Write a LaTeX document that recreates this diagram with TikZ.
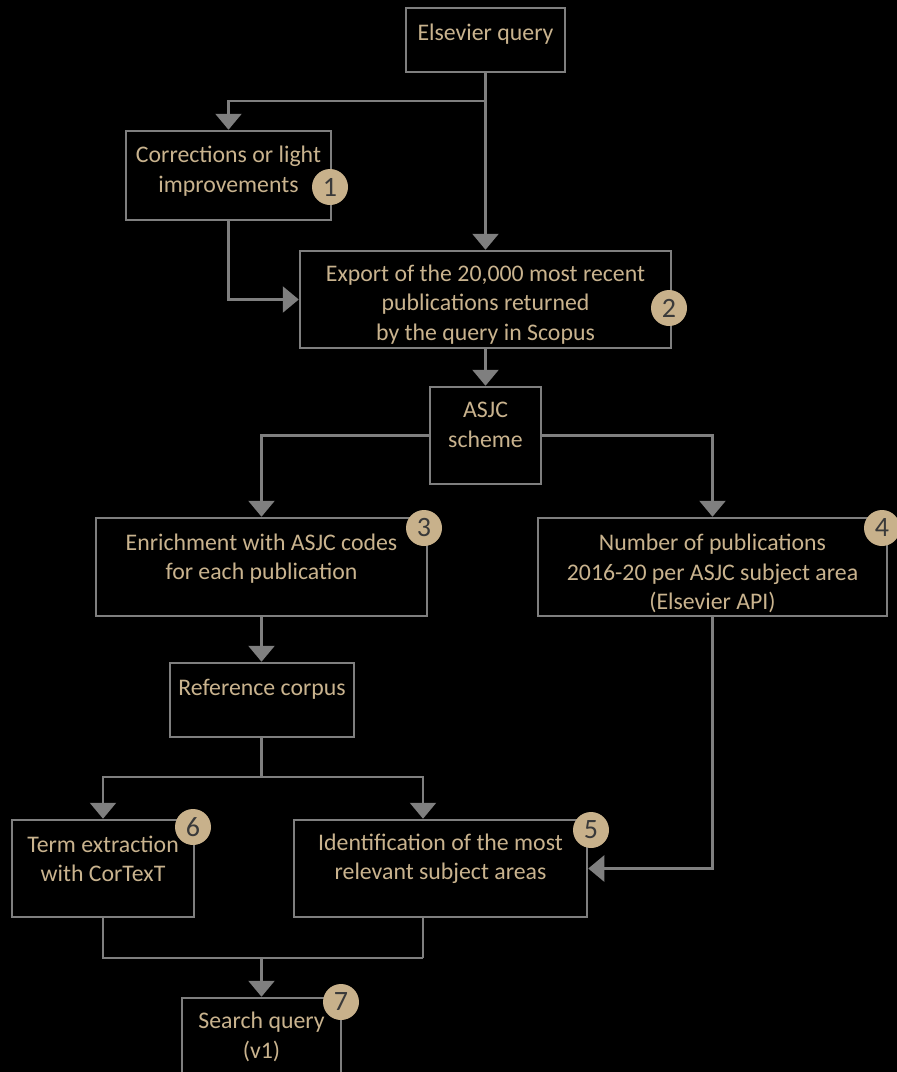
\documentclass[tikz,border=0pt]{standalone}
\usepackage{fontspec}
\setmainfont{Carlito}
\usetikzlibrary{arrows.meta}
\definecolor{ln}{HTML}{7F7F7F}
\definecolor{tx}{HTML}{C9B38E}
\definecolor{bd}{HTML}{C8B18B}
\definecolor{bdt}{HTML}{3A3A3A}
\begin{document}
\begin{tikzpicture}[x=1pt,y=-1pt,
 box/.style={draw=ln, line width=2.5pt, fill=black, inner sep=0pt},
 txt/.style={text=tx, font=\fontsize{23.8}{29.5}\selectfont, align=center, inner sep=0pt, yshift=-2pt},
 badge/.style={circle, fill=bd, text=bdt, minimum size=36pt, inner sep=0pt, font=\fontsize{28}{28}\selectfont},
 conn/.style={draw=ln, line width=2.5pt},
 arr/.style={conn, -{Triangle[width=26pt,length=16pt]}}]
\fill[black] (0,0) rectangle (897,1072);
\useasboundingbox (0,0) rectangle (897,1072);
% boxes
\node[box, minimum width=159pt, minimum height=64pt] (eq) at (485.5,40) {};
\node[box, minimum width=205pt, minimum height=89pt] (cor) at (228.5,175.5) {};
\node[box, minimum width=371pt, minimum height=97pt] (exp) at (485.5,299.5) {};
\node[box, minimum width=111pt, minimum height=97pt] (asjc) at (485.5,435.5) {};
\node[box, minimum width=331pt, minimum height=98pt] (enr) at (261.5,567) {};
\node[box, minimum width=349pt, minimum height=98pt] (num) at (712.5,567) {};
\node[box, minimum width=184pt, minimum height=74pt] (ref) at (262,700) {};
\node[box, minimum width=182pt, minimum height=97pt] (term) at (103,868.5) {};
\node[box, minimum width=293pt, minimum height=97pt] (ident) at (440.5,868.5) {};
\node[box, minimum width=159pt, minimum height=92pt] (search) at (261.5,1044) {};
% texts
\node[txt] (eqt) at (485.5,32) {Elsevier query};
\node[txt] (cort) at (228.5,169) {Corrections or light\\improvements};
\node[txt] (expt) at (485.5,302.5) {Export of the 20,000 most recent\\publications returned\\by the query in Scopus};
\node[txt] (asjct) at (485.5,423) {ASJC\\scheme};
\node[txt] (enrt) at (261.5,556.5) {Enrichment with ASJC codes\\for each publication};
\node[txt] (numt) at (712.5,571.5) {Number of publications\\2016-20 per ASJC subject area\\(Elsevier API)};
\node[txt] (reft) at (262,687) {Reference corpus};
\node[txt] (termt) at (103,857) {Term extraction\\with CorTexT};
\node[txt] (identt) at (440.5,857) {Identification of the most\\relevant subject areas};
\node[txt] (searcht) at (261.5,1035) {Search query\\(v1)};
% connectors
\coordinate (j1) at (485.5,101);
\draw[arr] (eq.south) -- (exp.north);
\draw[arr] (j1) -| (cor.north);
\draw[arr] (cor.south) |- (exp.west);
\draw[arr] (exp.south) -- (asjc.north);
\draw[arr] (asjc.west) -| (enr.north);
\draw[arr] (asjc.east) -| (num.north);
\draw[arr] (enr.south) -- (enr.south |- ref.north);
\coordinate (j2) at (261.5,777);
\coordinate (j3) at (423,777);
\draw[conn] (ref.south -| j2) -- (j2);
\draw[arr] (j3) -| (term.north);
\draw[arr] (j2) -- (j3) -- (j3 |- ident.north);
\draw[arr] (num.south) |- (ident.east);
\coordinate (j4) at (423,958);
\coordinate (j5) at (261.5,958);
\draw[conn] (term.south) |- (j4);
\draw[conn] (j4 |- ident.south) -- (j4);
\draw[arr] (j5) -- (search.north);
% badges
\node[badge] (b1) at (330,187) {1};
\node[badge] (b2) at (669,308) {2};
\node[badge] (b3) at (424,528) {3};
\node[badge] (b4) at (882,528) {4};
\node[badge] (b5) at (591,830) {5};
\node[badge] (b6) at (193,827) {6};
\node[badge] (b7) at (341,1002) {7};
\end{tikzpicture}
\end{document}
